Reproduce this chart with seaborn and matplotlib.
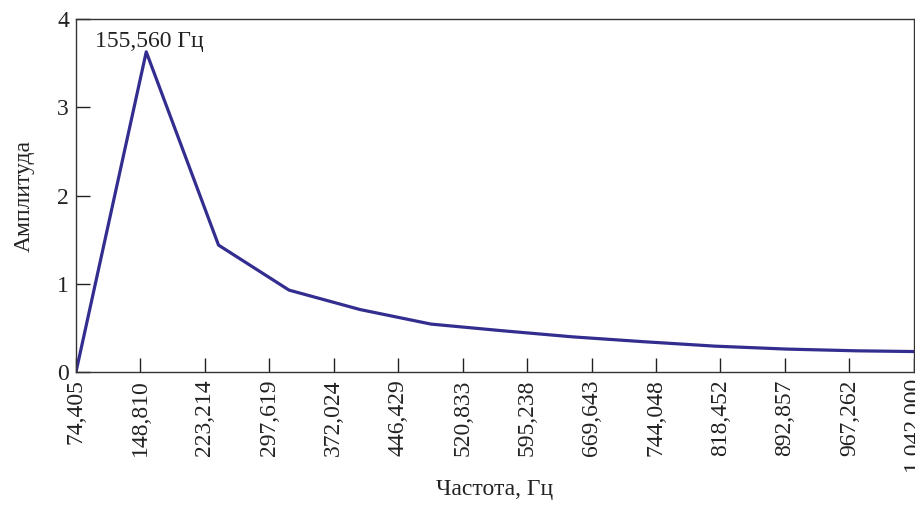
import matplotlib
matplotlib.use("Agg")
import matplotlib.pyplot as plt
import seaborn as sns
import pandas as pd

# Spectrum: frequency (Hz) vs amplitude
freq = [74.405, 155.560, 239.0, 320.4, 402.3, 484.3, 566.3, 648.3,
        730.3, 812.3, 894.3, 976.2, 1058.0]
amplitude = [0.0, 3.63, 1.44, 0.93, 0.71, 0.545, 0.47, 0.40,
             0.345, 0.295, 0.262, 0.242, 0.232]

tick_values = [74.405, 148.810, 223.214, 297.619, 372.024, 446.429, 520.833,
               595.238, 669.643, 744.048, 818.452, 892.857, 967.262, 1042.000]
tick_labels = ["74,405", "148,810", "223,214", "297,619", "372,024", "446,429",
               "520,833", "595,238", "669,643", "744,048", "818,452", "892,857",
               "967,262", "1 042,000"]
y_ticks = [0, 1, 2, 3, 4]

sns.set_style("ticks")
plt.rcParams["font.family"] = ["Liberation Serif", "DejaVu Serif"]
FS = 17

df = pd.DataFrame({"freq": freq, "amp": amplitude})

fig = plt.figure(figsize=(9.15, 5.05), dpi=100)
ax = fig.add_axes([0.083, 0.263, 0.916, 0.699])

sns.lineplot(data=df, x="freq", y="amp", ax=ax, sort=False,
             color="#332d8f", linewidth=2.3)

ax.set_xlim(tick_values[0], tick_values[-1])
ax.set_ylim(0, 4)
ax.set_xticks(tick_values)
ax.set_xticklabels(tick_labels, rotation=90, fontsize=FS)
ax.set_yticks(y_ticks)
ax.set_yticklabels([str(v) for v in y_ticks], fontsize=FS)
ax.tick_params(direction="in", length=10, width=1.0, colors="#222222",
               labelcolor="#222222", pad=5)

for side in ["left", "bottom", "top", "right"]:
    ax.spines[side].set_color("#333333")
    ax.spines[side].set_linewidth(1.0)

ax.set_xlabel("Частота, Гц", fontsize=FS, color="#222222", labelpad=4)
ax.set_ylabel("Амплитуда", fontsize=FS, color="#222222", labelpad=16)

# Mark the dominant frequency
i_peak = amplitude.index(max(amplitude))
peak_label = f"{freq[i_peak]:.3f}".replace(".", ",") + " Гц"
ax.text(freq[i_peak] + 3, amplitude[i_peak], peak_label,
        ha="center", va="bottom", fontsize=FS, color="#222222")

fig.savefig("out.png", dpi=100)
